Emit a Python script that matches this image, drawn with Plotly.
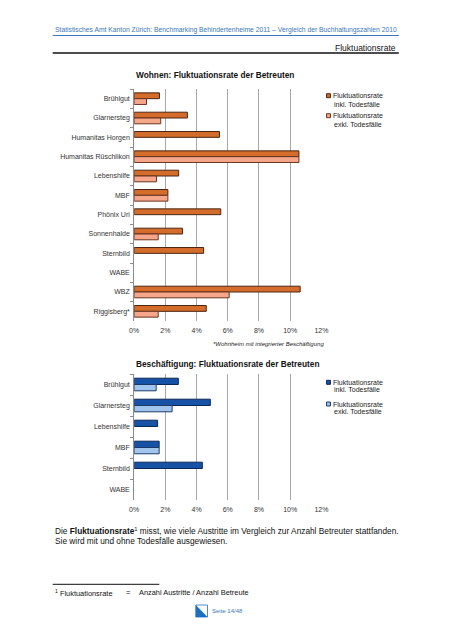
import plotly.graph_objects as go

# ---------------- data ----------------
wohnen_cats = ["Brühlgut", "Glarnersteg", "Humanitas Horgen", "Humanitas Rüschlikon",
               "Lebenshilfe", "MBF", "Phönix Uri", "Sonnenhalde", "Sternbild",
               "WABE", "WBZ", "Riggisberg*"]
wohnen_inkl = [1.62, 3.41, 5.47, 10.56, 2.85, 2.16, 5.55, 3.10, 4.45, None, 10.64, 4.62]
wohnen_exkl = [0.79, 1.70, None, 10.56, 1.43, 2.16, None, 1.54, None, None, 6.09, 1.54]

besch_cats = ["Brühlgut", "Glarnersteg", "Lebenshilfe", "MBF", "Sternbild", "WABE"]
besch_inkl = [2.83, 4.88, 1.50, 1.60, 4.37, None]
besch_exkl = [1.41, 2.43, None, 1.60, None, None]

x_ticks = [0, 2, 4, 6, 8, 10, 12]
name_inkl = "Fluktuationsrate inkl. Todesfälle"
name_exkl = "Fluktuationsrate exkl. Todesfälle"

# ---------------- helpers ----------------
W, H = 453, 640
FONT = "Liberation Sans, Arial, sans-serif"


def px(x):
    return x / W


def py(y):
    return 1 - y / H


def frac(vals):
    return [None if v is None else v / 100 for v in vals]


ORANGE, ORANGE_L = "#D46C2C", "#F6A78B"
ORANGE_EDGE = "#4A2612"
BLUE, BLUE_L = "#1652A6", "#A2C5EE"
BLUE_EDGE = "#0B2756"

fig = go.Figure()
fig.add_trace(go.Bar(y=wohnen_cats, x=frac(wohnen_inkl), orientation="h", name=name_inkl,
                     marker=dict(color=ORANGE, line=dict(color=ORANGE_EDGE, width=1)),
                     xaxis="x", yaxis="y", showlegend=False))
fig.add_trace(go.Bar(y=wohnen_cats, x=frac(wohnen_exkl), orientation="h", name=name_exkl,
                     marker=dict(color=ORANGE_L, line=dict(color="#6A3520", width=1)),
                     xaxis="x", yaxis="y", showlegend=False))
fig.add_trace(go.Bar(y=besch_cats, x=frac(besch_inkl), orientation="h", name=name_inkl,
                     marker=dict(color=BLUE, line=dict(color=BLUE_EDGE, width=1)),
                     xaxis="x2", yaxis="y2", showlegend=False))
fig.add_trace(go.Bar(y=besch_cats, x=frac(besch_exkl), orientation="h", name=name_exkl,
                     marker=dict(color=BLUE_L, line=dict(color="#1C3A66", width=1)),
                     xaxis="x2", yaxis="y2", showlegend=False))

GRID = "#A8A8A8"
xdom = [px(132.7), px(325)]
xaxis_common = dict(range=[0, 0.12], tickvals=[t / 100 for t in x_ticks],
                    ticktext=[f"{t}%" for t in x_ticks],
                    showgrid=True, gridcolor=GRID, gridwidth=1, zeroline=False,
                    showline=False, ticks="", tickfont=dict(size=7, color="#333", family=FONT),
                    fixedrange=True, ticklabelstandoff=4)
yaxis_common = dict(type="category", autorange="reversed", showgrid=False, zeroline=False,
                    showline=True, linecolor="#8C8C8C", linewidth=1,
                    ticks="outside", tickson="boundaries", ticklen=3, tickcolor="#8C8C8C",
                    tickfont=dict(size=7, color="#333", family=FONT), ticklabelstandoff=2,
                    fixedrange=True)

fig.update_layout(
    width=W, height=H,
    margin=dict(l=0, r=0, t=0, b=0),
    paper_bgcolor="white", plot_bgcolor="white",
    barmode="group", bargap=0.4, bargroupgap=0,
    font=dict(family=FONT, color="#222"),
    xaxis=dict(domain=xdom, anchor="y", **xaxis_common),
    yaxis=dict(domain=[py(321), py(89)], anchor="x", **yaxis_common),
    xaxis2=dict(domain=xdom, anchor="y2", **xaxis_common),
    yaxis2=dict(domain=[py(500), py(374)], anchor="x2", **yaxis_common),
)

shapes = []
ann = []


def text(x, y, s, size, color="#222", anchor="left", **kw):
    ann.append(dict(x=px(x), y=py(y), xref="paper", yref="paper", text=s, showarrow=False,
                    xanchor=anchor, yanchor="middle",
                    font=dict(size=size, color=color, family=FONT), **kw))


def hline(x0, x1, y, color, width):
    shapes.append(dict(type="line", xref="paper", yref="paper", x0=px(x0), x1=px(x1),
                       y0=py(y), y1=py(y), line=dict(color=color, width=width)))


# header
text(49, 30.3, "Statistisches Amt Kanton Zürich: Benchmarking Behindertenheime 2011 – "
     "Vergleich der Buchhaltungszahlen 2010", 6.75, color="#3A78BC")
hline(49, 404.5, 35.5, "#3A78BC", 1)
text(404, 48.3, "Fluktuationsrate", 8.5, anchor="right", color="#111")
hline(49, 404.5, 53, "#111", 1.5)

# chart titles
text(132, 75.5, "<b>Wohnen: Fluktuationsrate der Betreuten</b>", 8.3, color="#111")
text(132, 364, "<b>Beschäftigung: Fluktuationsrate der Betreuten</b>", 8.3, color="#111")

# footnote under the first chart
text(330, 344, "<i>*Wohnheim mit integrierter Beschäftigung</i>", 6, anchor="right")


# legends
def legend_entry(y_top, fill, edge, line1, line2, gap):
    shapes.append(dict(type="rect", xref="paper", yref="paper",
                       x0=px(330.3), x1=px(334.3), y0=py(y_top - 2), y1=py(y_top + 2),
                       fillcolor=fill, line=dict(color=edge, width=1)))
    text(335, y_top, line1, 7)
    text(336, y_top + gap, line2, 7)


legend_entry(95.7, ORANGE, ORANGE_EDGE, "Fluktuationsrate", "inkl. Todesfälle", 8.6)
legend_entry(115.7, ORANGE_L, "#6A3520", "Fluktuationsrate", "exkl. Todesfälle", 8.6)
legend_entry(382.3, BLUE, BLUE_EDGE, "Fluktuationsrate", "inkl. Todesfälle", 7.4)
legend_entry(404.0, BLUE_L, "#1C3A66", "Fluktuationsrate", "exkl. Todesfälle", 7.4)

# body text
text(49, 530.7, "Die <b>Fluktuationsrate</b><sup>1</sup> misst, wie viele Austritte im Vergleich "
     "zur Anzahl Betreuter stattfanden.", 8.3, color="#111")
text(49, 540.5, "Sie wird mit und ohne Todesfälle ausgewiesen.", 8.3, color="#111")

# footnote
hline(49, 158.5, 584.3, "#111", 1)
text(49, 592.7, "<sup>1</sup> Fluktuationsrate", 7.4, color="#111")
text(122, 592.7, "=", 7.4, color="#111")
text(136, 592.7, "Anzahl Austritte / Anzahl Betreute", 7.4, color="#111")

# page logo + number
shapes.append(dict(type="path", xref="paper", yref="paper",
                   path=f"M {px(196)} {py(605)} L {px(208)} {py(617)} L {px(196)} {py(617)} Z",
                   fillcolor="#1D6FC0", line=dict(width=0)))
shapes.append(dict(type="rect", xref="paper", yref="paper", x0=px(196), x1=px(208),
                   y0=py(617), y1=py(605), line=dict(color="#1D6FC0", width=0.8)))
text(211, 611, "Seite 14/48", 6, color="#3A78BC")

fig.update_layout(shapes=shapes, annotations=ann)
fig.write_html("out.html", config={"displayModeBar": False},
               post_script="document.body.style.margin='0';document.body.style.overflow='hidden';")
